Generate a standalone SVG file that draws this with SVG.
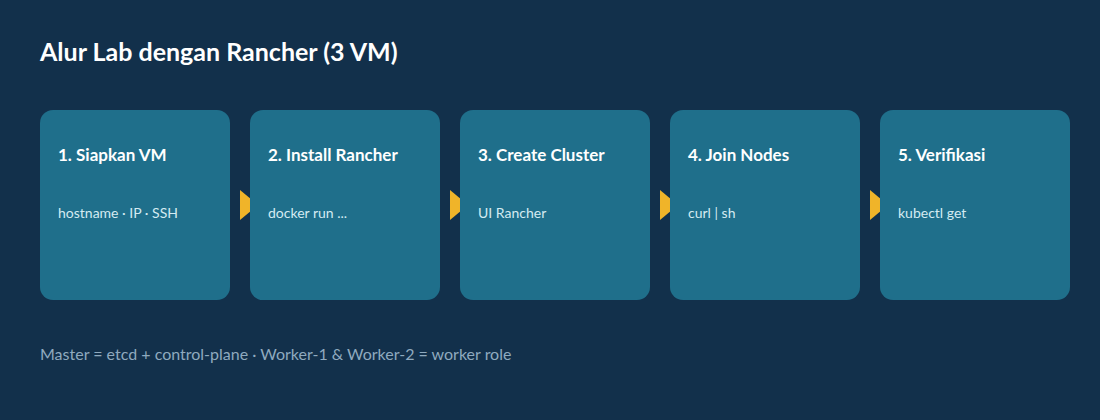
<svg xmlns="http://www.w3.org/2000/svg" width="1100" height="420" viewBox="0 0 1100 420">
<style>
.box{fill:#1f6f8b}
.t{font-family:Lato,"Open Sans",sans-serif;font-weight:bold;font-size:17px;fill:#ffffff}
.s{font-family:Lato,"Open Sans",sans-serif;font-size:14px;fill:#d4ebf2}
.arr{fill:#f0b429}
</style>
<rect width="1100" height="420" fill="#12304b"/>
<text x="40" y="61" font-family="Lato,'Open Sans',sans-serif" font-weight="bold" font-size="25" fill="#ffffff">Alur Lab dengan Rancher (3 VM)</text>
<g id="connectors">
<polygon class="arr" points="240,190 258,205 240,220"/>
<polygon class="arr" points="450,190 468,205 450,220"/>
<polygon class="arr" points="660,190 678,205 660,220"/>
<polygon class="arr" points="870,190 888,205 870,220"/>
</g>
<g id="n1"><rect class="box" x="40" y="110" width="190" height="190" rx="13"/><text class="t" x="58" y="161">1. Siapkan VM</text><text class="s" x="58" y="218">hostname · IP · SSH</text></g>
<g id="n2"><rect class="box" x="250" y="110" width="190" height="190" rx="13"/><text class="t" x="268" y="161">2. Install Rancher</text><text class="s" x="268" y="218">docker run ...</text></g>
<g id="n3"><rect class="box" x="460" y="110" width="190" height="190" rx="13"/><text class="t" x="478" y="161">3. Create Cluster</text><text class="s" x="478" y="218">UI Rancher</text></g>
<g id="n4"><rect class="box" x="670" y="110" width="190" height="190" rx="13"/><text class="t" x="688" y="161">4. Join Nodes</text><text class="s" x="688" y="218">curl | sh</text></g>
<g id="n5"><rect class="box" x="880" y="110" width="190" height="190" rx="13"/><text class="t" x="898" y="161">5. Verifikasi</text><text class="s" x="898" y="218">kubectl get</text></g>
<text x="40" y="360" font-family="Lato,'Open Sans',sans-serif" font-size="16" fill="#8faabf">Master = etcd + control-plane · Worker-1 &amp; Worker-2 = worker role</text>
</svg>
